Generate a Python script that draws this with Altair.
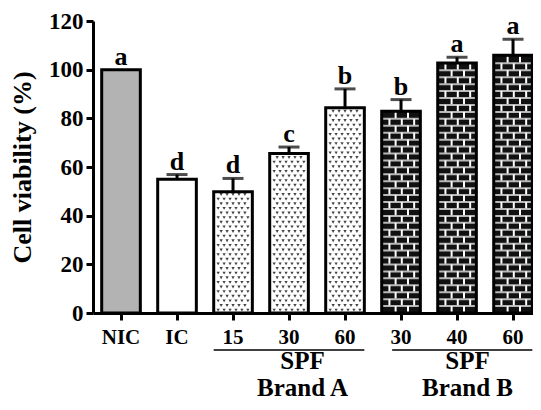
import altair as alt
import pandas as pd

# ---------------- data ----------------
categories = ["NIC", "IC", "A15", "A30", "A60", "B30", "B40", "B60"]
tick_labels = ["NIC", "IC", "15", "30", "60", "30", "40", "60"]
treatment_groups = ["NIC", "IC", "A", "A", "A", "B", "B", "B"]
viability = [100.0, 55.0, 49.8, 65.5, 84.3, 82.9, 102.7, 105.9]
sd = [0.0, 1.9, 5.5, 2.7, 7.8, 4.8, 2.4, 6.6]
letters = ["a", "d", "d", "c", "b", "b", "a", "a"]

brand_names = ["Brand A", "Brand B"]
brand_unit = ["SPF", "SPF"]
brand_first = ["A15", "B30"]
brand_mid = ["A30", "B40"]
brand_last = ["A60", "B60"]

# ---------------- styling ----------------
FONT = "Liberation Serif"
W, H = 440, 292

df = pd.DataFrame({
    "cat": categories, "label": tick_labels, "group": treatment_groups,
    "value": viability, "sd": sd, "letter": letters,
})
df["upper"] = df["value"] + df["sd"]

label_map = "{" + ",".join(f"'{c}':'{l}'" for c, l in zip(categories, tick_labels)) + "}"

x_scale = alt.Scale(domain=categories, paddingInner=0.31, paddingOuter=0.0835, align=0.93)
y_scale = alt.Scale(domain=[0, 120], nice=False)

x_axis = alt.Axis(
    title=None, labelExpr=label_map + "[datum.label]", labelAngle=0,
    labelFont=FONT, labelFontSize=21, labelFontWeight="bold", labelColor="black",
    labelPadding=6, tickSize=7, tickWidth=3, tickColor="black",
    domainColor="black", domainWidth=3, grid=False,
)
y_axis = alt.Axis(
    title="Cell viability (%)", values=[0, 20, 40, 60, 80, 100, 120], grid=False,
    labelFont=FONT, labelFontSize=23, labelFontWeight="bold", labelColor="black",
    labelPadding=3, tickSize=7, tickWidth=3, tickColor="black",
    domainColor="black", domainWidth=3,
    titleFont=FONT, titleFontSize=26, titleFontWeight="bold", titleColor="black",
    titlePadding=13,
)


def X(field="cat", band=None):
    if band is None:
        return alt.X(f"{field}:N", scale=x_scale, axis=x_axis, sort=categories)
    return alt.X(f"{field}:N", scale=x_scale, axis=x_axis, sort=categories, bandPosition=band)


def Y(field):
    return alt.Y(f"{field}:Q", scale=y_scale, axis=y_axis)


# ---------------- textures derived from the bar values ----------------
N_SLOTS = 13
dot_rows = []
for c, g, v in zip(categories, treatment_groups, viability):
    if g != "A":
        continue
    k, yy = 0, 1.2
    while yy < v - 1.0:
        slots = range(1, 12, 2) if k % 2 == 0 else range(2, 11, 2)
        for s in slots:
            dot_rows.append({"cat": c, "y": yy, "slot": s})
        yy += 1.9
        k += 1
dots = pd.DataFrame(dot_rows)

BRICK = 2.85
brick_rows = []
for c, g, v in zip(categories, treatment_groups, viability):
    if g != "B":
        continue
    k = 0
    while k * BRICK < v - 0.5:
        brick_rows.append({
            "cat": c, "y0": k * BRICK + 0.3, "y1": min((k + 1) * BRICK, v),
            "row": k % 2, "line": (k + 1) * BRICK, "hasline": (k + 1) * BRICK < v - 1.0,
        })
        k += 1
bricks = pd.DataFrame(brick_rows)

# ---------------- layers ----------------
bars = alt.Chart(df).mark_bar(strokeWidth=0).encode(
    x=X(), y=Y("value"),
    color=alt.Color("group:N", legend=None,
                    scale=alt.Scale(domain=["NIC", "IC", "A", "B"],
                                    range=["#b3b3b3", "#ffffff", "#ffffff", "#111111"])),
)

dot_layers = []
for s in range(1, 12):
    dot_layers.append(
        alt.Chart(dots).transform_filter(f"datum.slot == {s}")
        .mark_point(shape="triangle-down", filled=True, size=11, color="#444444", opacity=1)
        .encode(x=X(band=(s + 0.5) / N_SLOTS), y=Y("y"))
    )

brick_lines = alt.Chart(bricks).transform_filter("datum.hasline").mark_tick(
    color="white", thickness=2, size=36).encode(x=X(), y=Y("line"))

brick_div_layers = []
for parity, bands in [(0, [0.36, 0.68]), (1, [0.2, 0.52, 0.84])]:
    for b in bands:
        brick_div_layers.append(
            alt.Chart(bricks).transform_filter(f"datum.row == {parity}")
            .mark_rule(color="white", strokeWidth=2)
            .encode(x=X(band=b), y=Y("y0"), y2="y1:Q")
        )

outline = alt.Chart(df).mark_bar(fill="transparent", stroke="black", strokeWidth=3).encode(
    x=X(), y=Y("value"))

err = alt.Chart(df).transform_filter("datum.sd > 0").mark_rule(color="black", strokeWidth=3).encode(
    x=X(), y=Y("value"), y2="upper:Q")
caps = alt.Chart(df).transform_filter("datum.sd > 0").mark_tick(color="black", thickness=3, size=21).encode(
    x=X(), y=Y("upper"))

letter_layer = alt.Chart(df).mark_text(font=FONT, fontSize=26, fontWeight="bold", dy=-5,
                                       baseline="alphabetic", color="black").encode(
    x=X(), y=Y("upper"), text="letter:N")

groups_df = pd.DataFrame({"name": brand_names, "unit": brand_unit,
                          "first": brand_first, "mid": brand_mid, "last": brand_last})

group_layers = []
for i, (line_start, text_band) in enumerate([(0.0, 0.85), (0.27, 0.77)]):
    gdf = groups_df.iloc[[i]]
    group_layers.append(
        alt.Chart(gdf).mark_rule(color="black", strokeWidth=1.5).encode(
            x=X("first", band=line_start), x2=alt.X2("last:N", bandPosition=1), y=alt.value(H + 37))
    )
    group_layers.append(
        alt.Chart(gdf).mark_text(font=FONT, fontSize=25, fontWeight="bold", baseline="alphabetic",
                                 color="black").encode(
            x=X("mid", band=text_band), y=alt.value(H + 56), text="unit:N")
    )
    group_layers.append(
        alt.Chart(gdf).mark_text(font=FONT, fontSize=25, fontWeight="bold", baseline="alphabetic",
                                 color="black").encode(
            x=X("mid", band=text_band), y=alt.value(H + 83), text="name:N")
    )

chart = alt.layer(
    bars, *dot_layers, brick_lines, *brick_div_layers, outline, err, caps, letter_layer, *group_layers
).properties(
    width=W, height=H,
    autosize=alt.AutoSizeParams(type="none"),
    padding={"left": 85, "top": 13, "right": 0, "bottom": 89},
    background="white",
).configure_view(stroke=None)

chart.save("out.html", embed_options={"renderer": "svg", "actions": False})
